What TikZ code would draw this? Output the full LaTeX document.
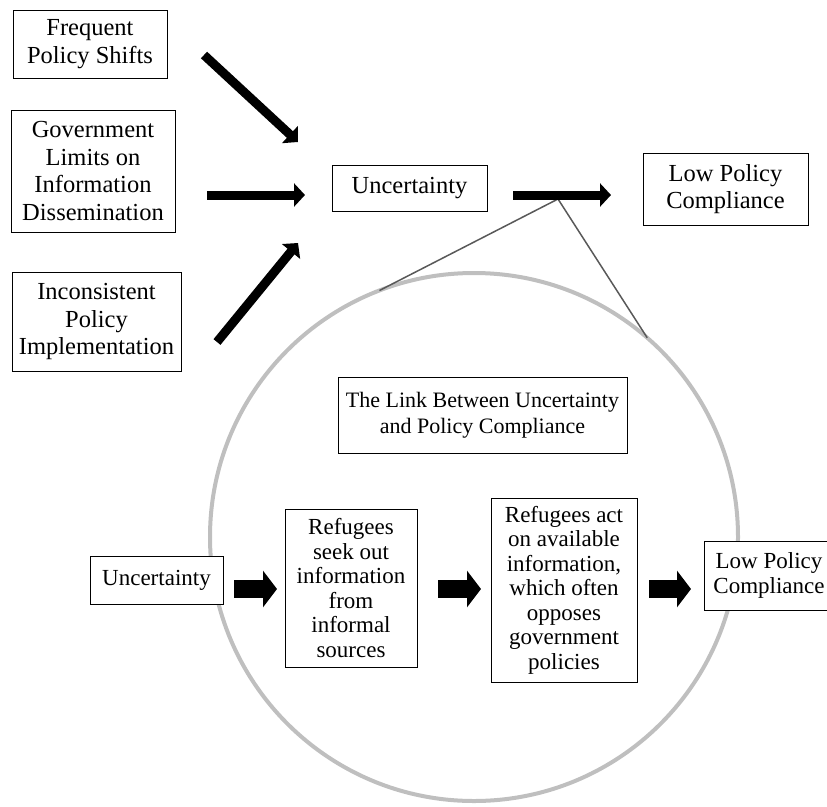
\documentclass[tikz,border=0pt]{standalone}
\usepackage{fontspec}
\setmainfont{Liberation Serif}
\usepackage{tikz}
\usetikzlibrary{arrows.meta}
\tikzset{box style/.style={
		draw=black,
		line width=0.8pt,
		fill=white,
		text=black,
		rectangle,
		align=center,
		inner sep=0pt,
		outer sep=0pt,
		font=\fontsize{24.5}{27.5}\selectfont,
	},
	flow style/.style={
		box style,
		font=\fontsize{23}{24.5}\selectfont,
	},
	arrow style/.style={
		line width=9pt,
		-{Triangle[length=11pt,width=23pt]},
	},
	small arrow style/.style={
		line width=18pt,
		-{Triangle[length=14pt,width=36pt]},
	},
	lens style/.style={
		draw=black!25,
		line width=4pt,
		circle,
		inner sep=0pt,
		outer sep=0pt,
	},
	zoom style/.style={
		draw=black!65,
		line width=1.5pt,
	}
}

\begin{document}
\begin{tikzpicture}[x=1pt,y=-1pt]
	\useasboundingbox (0,0) rectangle (827,806);
	
	% the magnifier
	\node[lens style, minimum size=528pt] (Lens) at (474,537) {};
	\coordinate (Focus) at (558,199);
	\draw[zoom style] (Focus) -- (Lens.111);
	\draw[zoom style] (Focus) -- (Lens.49);
	
	% causes
	\node[box style, minimum width=154pt, minimum height=68pt] (Shifts) at (90,44) {Frequent\\Policy Shifts};
	\node[box style, minimum width=164pt, minimum height=122pt] (Limits) at (93,171) {Government\\Limits on\\Information\\Dissemination};
	\node[box style, minimum width=169pt, minimum height=99pt] (Inconsistent) at (96.5,321.5) {Inconsistent\\Policy\\Implementation};
	
	\node[box style, minimum width=155pt, minimum height=46pt] (Uncertainty) at (409.5,188) {Uncertainty};
	\node[box style, minimum width=165pt, minimum height=72pt] (Compliance) at (725.5,189) {Low Policy\\Compliance};
	
	\coordinate (ShiftsOut) at (204,55);
	\coordinate (ShiftsIn) at (298,142);
	\coordinate (LimitsOut) at (207,195);
	\coordinate (LimitsIn) at (305,195);
	\coordinate (InconsistentOut) at (217,342);
	\coordinate (InconsistentIn) at (298,243);
	\coordinate (UncertaintyOut) at (513,195);
	\coordinate (ComplianceIn) at (611,195);
	\draw[arrow style] (ShiftsOut) -- (ShiftsIn);
	\draw[arrow style] (LimitsOut) -- (LimitsIn);
	\draw[arrow style] (InconsistentOut) -- (InconsistentIn);
	\draw[arrow style] (UncertaintyOut) -- (ComplianceIn);
	
	% inside the lens
	\node[box style, font=\fontsize{22}{26}\selectfont, minimum width=289pt, minimum height=76pt] (Link) at (482.5,415) {The Link Between Uncertainty\\and Policy Compliance};
	
	\node[flow style, minimum width=133pt, minimum height=48pt] (Uncertainty2) at (156.5,580) {Uncertainty};
	\node[flow style, minimum width=132pt, minimum height=158pt] (Seek) at (351,588) {Refugees\\seek out\\information\\from\\informal\\sources};
	\node[flow style, minimum width=146pt, minimum height=184pt] (Act) at (564,590) {Refugees act\\on available\\information,\\which often\\opposes\\government\\policies};
	\node[flow style, minimum width=130pt, minimum height=69pt, anchor=west] (Compliance2) at (704,575.5) {Low Policy\\Compliance};
	
	\coordinate (SeekOut) at (234,589);
	\coordinate (SeekIn) at (277,589);
	\coordinate (ActOut) at (438,589);
	\coordinate (ActIn) at (481,589);
	\coordinate (LowOut) at (649,589);
	\coordinate (LowIn) at (691,589);
	\draw[small arrow style] (SeekOut) -- (SeekIn);
	\draw[small arrow style] (ActOut) -- (ActIn);
	\draw[small arrow style] (LowOut) -- (LowIn);
\end{tikzpicture}
\end{document}
